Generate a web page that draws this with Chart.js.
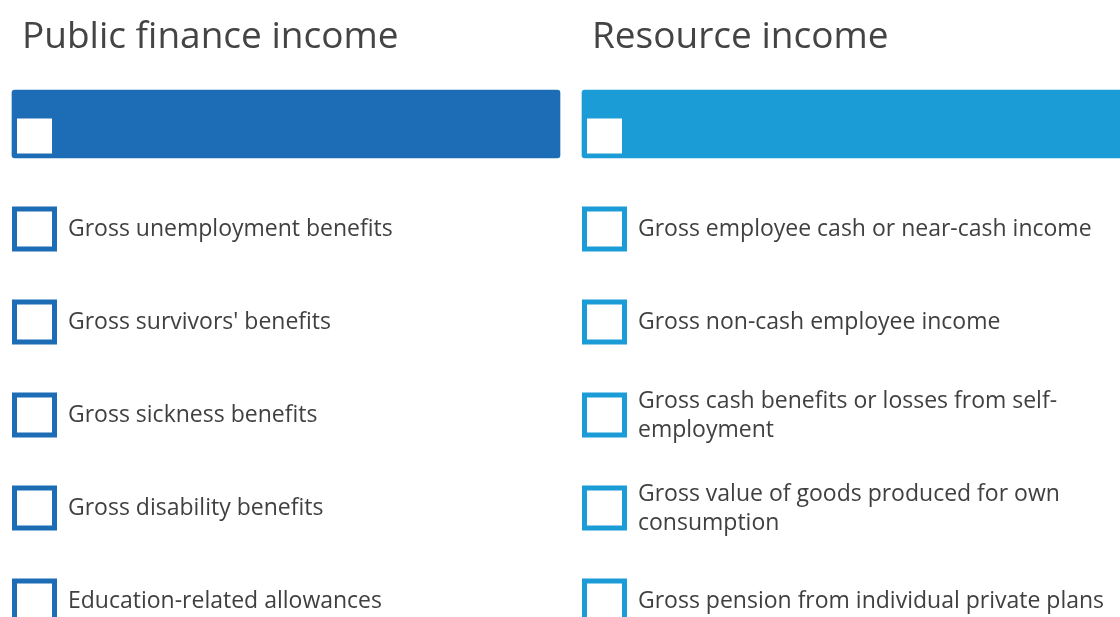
<!DOCTYPE html>
<html><head><meta charset="utf-8">
<script src="https://cdn.jsdelivr.net/npm/chart.js@4/dist/chart.umd.min.js"></script>
<style>html,body{margin:0;padding:0;background:#fff;overflow:hidden}#wrap{width:1120px;height:617px;position:relative}</style>
</head><body><div id="wrap"><canvas id="c"></canvas></div>
<script>
// ---- content ----
const columnTitles = ["Public finance income", "Resource income"];
const publicFinanceItems = [
  "Gross unemployment benefits",
  "Gross survivors' benefits",
  "Gross sickness benefits",
  "Gross disability benefits",
  "Education-related allowances"
];
const resourceItems = [
  "Gross employee cash or near-cash income",
  "Gross non-cash employee income",
  ["Gross cash benefits or losses from self-", "employment"],
  ["Gross value of goods produced for own", "consumption"],
  "Gross pension from individual private plans"
];
const columnItems = [publicFinanceItems, resourceItems];
const columnColors = ["#1c6db6", "#1b9cd7"];

// ---- layout (pixels) ----
const W = 1120, H = 617;
const COL_PX = 570, FIRST_COL_PX = 34.5;   // checkbox centre of column 0
const ROW_PX = 93, HEADER_ROW_PX = 136;    // centre of header square (row 0)
const BOX_OUTER = 45, BOX_BORDER = 5, HEADER_SQ = 35, HEADER_H = 68;

const xMin = -FIRST_COL_PX / COL_PX, xMax = (W - FIRST_COL_PX) / COL_PX;
const yMin = -HEADER_ROW_PX / ROW_PX, yMax = (H - HEADER_ROW_PX) / ROW_PX;
const headerBarRow = -12 / ROW_PX;              // bar centre sits 12px above square centre
const barStart = -(FIRST_COL_PX - 12) / COL_PX; // bar left edge 12px
const barEnd = (560 - FIRST_COL_PX) / COL_PX;   // bar right edge 560px

const rectRadius = s => s / Math.SQRT2; // Chart.js 'rect' side = radius*sqrt2

const datasets = [];
datasets.push({
  type: 'bar', indexAxis: 'y', order: 5, grouped: false,
  data: columnTitles.map((t, c) => ({ y: headerBarRow, x: [c + barStart, c + barEnd] })),
  backgroundColor: columnColors, barThickness: HEADER_H, borderRadius: 3, borderSkipped: false
});
datasets.push({
  type: 'scatter', order: 1,
  data: columnTitles.map((t, c) => ({ x: c, y: 0 })),
  pointStyle: 'rect', pointRadius: rectRadius(HEADER_SQ), pointBorderWidth: 0,
  pointBackgroundColor: '#ffffff', pointBorderColor: '#ffffff'
});
columnItems.forEach((items, c) => {
  datasets.push({
    type: 'scatter', order: 1,
    data: items.map((_, i) => ({ x: c, y: i + 1 })),
    pointStyle: 'rect', pointRadius: rectRadius(BOX_OUTER - BOX_BORDER),
    pointBorderWidth: BOX_BORDER, pointBorderColor: columnColors[c], pointBackgroundColor: '#ffffff'
  });
});

const textPlugin = {
  id: 'texts',
  afterDatasetsDraw(chart) {
    const ctx = chart.ctx, xs = chart.scales.x, ys = chart.scales.y;
    ctx.save();
    ctx.textAlign = 'left';
    ctx.textBaseline = 'alphabetic';
    columnTitles.forEach((title, c) => {
      const cx = xs.getPixelForValue(c);
      ctx.fillStyle = '#444444';
      ctx.font = '37px "Open Sans"';
      ctx.fillText(title, cx - 12.5, 48);
      const size = 23, cap = 14.8, lh = 29;
      ctx.font = size + 'px "Open Sans"';
      ctx.fillStyle = '#404040';
      columnItems[c].forEach((label, i) => {
        const lines = Array.isArray(label) ? label : [label];
        const cy = ys.getPixelForValue(i + 1);
        const first = cy + cap / 2 - (lines.length - 1) * lh / 2;
        lines.forEach((ln, k) => ctx.fillText(ln, cx + 33.5, first + k * lh));
      });
    });
    ctx.restore();
  }
};

new Chart(document.getElementById('c'), {
  type: 'scatter',
  data: { datasets },
  options: {
    responsive: true, maintainAspectRatio: false, animation: false, events: [],
    layout: { padding: 0, autoPadding: false },
    scales: {
      x: { type: 'linear', display: false, offset: false, grace: 0, min: xMin, max: xMax },
      y: { type: 'linear', display: false, offset: false, grace: 0, min: yMin, max: yMax, reverse: true }
    },
    plugins: { legend: { display: false }, tooltip: { enabled: false } }
  },
  plugins: [textPlugin]
});
</script></body></html>
